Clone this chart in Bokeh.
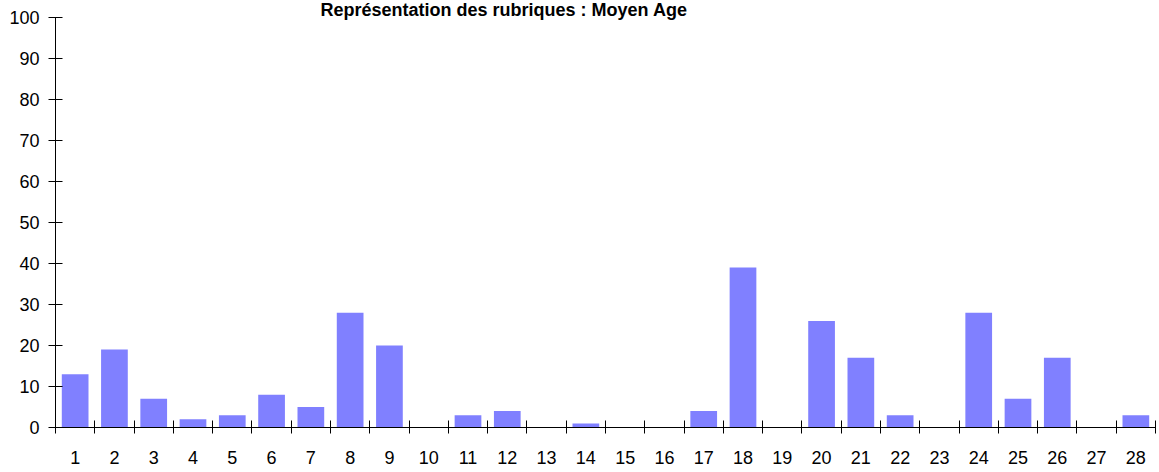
from bokeh.plotting import figure
from bokeh.models import FixedTicker, Title
from bokeh.embed import file_html
from bokeh.resources import INLINE

categories = list(range(1, 29))
values = [13, 19, 7, 2, 3, 8, 5, 28, 20, 0, 3, 4, 0, 1, 0, 0, 4, 39, 0, 26, 17, 3, 0, 28, 7, 17, 0, 3]
y_ticks = [0, 10, 20, 30, 40, 50, 60, 70, 80, 90, 100]
title_text = "Représentation des rubriques : Moyen Age"

FONT = "Liberation Sans"

p = figure(width=1159, height=466, output_backend="svg", toolbar_location=None,
           x_range=(0.5, 28.5), y_range=(0, 100),
           min_border_left=55, min_border_right=4, min_border_top=0, min_border_bottom=0)

p.title = Title(text=title_text, text_font=FONT, text_font_size="18px", text_font_style="bold",
                align="left", offset=265, standoff=-5, text_color="black")

p.vbar(x=categories, top=values, width=0.68, fill_color="#8080FF", line_color=None)

p.outline_line_color = None
p.xgrid.grid_line_color = None
p.ygrid.grid_line_color = None
p.background_fill_color = "white"

xa = p.xaxis[0]
xa.ticker = FixedTicker(ticks=categories, minor_ticks=[c - 0.5 for c in categories] + [28.5])
xa.major_tick_out = 0
xa.major_tick_in = 0
xa.minor_tick_out = 6
xa.minor_tick_in = 7
xa.minor_tick_line_color = "black"
xa.axis_line_color = "black"
xa.major_label_standoff = 17
xa.major_label_text_font = FONT
xa.major_label_text_font_size = "18px"
xa.major_label_text_color = "black"

ya = p.yaxis[0]
ya.ticker = FixedTicker(ticks=y_ticks, minor_ticks=[])
ya.major_tick_out = 7
ya.major_tick_in = 7
ya.major_tick_line_color = "black"
ya.axis_line_color = "black"
ya.major_label_standoff = 9
ya.major_label_text_font = FONT
ya.major_label_text_font_size = "18px"
ya.major_label_text_color = "black"

open("out.html", "w").write(file_html(p, INLINE))
